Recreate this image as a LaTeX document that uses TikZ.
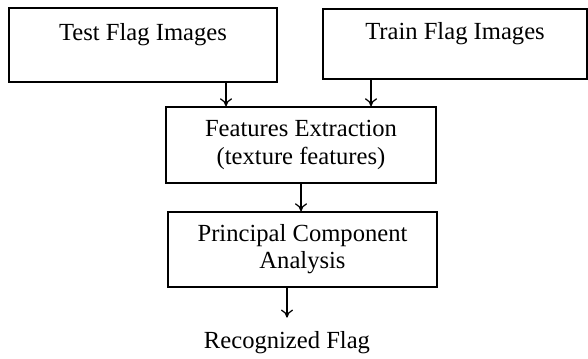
\documentclass[tikz,border=0pt]{standalone}
\usepackage{fontspec}
\setmainfont{Liberation Serif}
\usepackage{tikz}
\usetikzlibrary{arrows.meta,positioning,calc}

\begin{document}
\begin{tikzpicture}[
    box/.style={rectangle, draw=black, line width=0.8pt, align=center,
                font=\fontsize{14}{15.4}\selectfont, inner sep=0pt},
    arr/.style={-{To[length=1.6mm,width=2.4mm]}, line width=0.7pt}
]
    \useasboundingbox (0,0) rectangle (11.76,-7.16);

    \node[box, minimum width=5.36cm, minimum height=1.48cm] (test) at (2.86,-0.90) {Test Flag Images\\\mbox{}};
    \node[box, minimum width=5.28cm, minimum height=1.40cm] (train) at (9.10,-0.88) {Train Flag Images\\\mbox{}};
    \node[box, minimum width=5.40cm, minimum height=1.52cm] (feat) at (6.02,-2.90) {Features Extraction\\(texture features)};
    \node[box, minimum width=5.38cm, minimum height=1.50cm] (pca) at (6.05,-4.99) {Principal Component\\Analysis};
    \node[font=\fontsize{14}{15.4}\selectfont, anchor=base, inner sep=0.26cm] (out) at (5.74,-6.96) {Recognized Flag};

    % both image sets feed the feature extractor
    \draw[arr] ([xshift=1.66cm]test.south) -- ([xshift=1.66cm]test.south |- feat.north);
    \draw[arr] ([xshift=-1.68cm]train.south) -- ([xshift=-1.68cm]train.south |- feat.north);
    \draw[arr] (feat.south) -- (feat.south |- pca.north);
    \draw[arr] (pca.south -| out.north) -- (out.north);
\end{tikzpicture}
\end{document}
